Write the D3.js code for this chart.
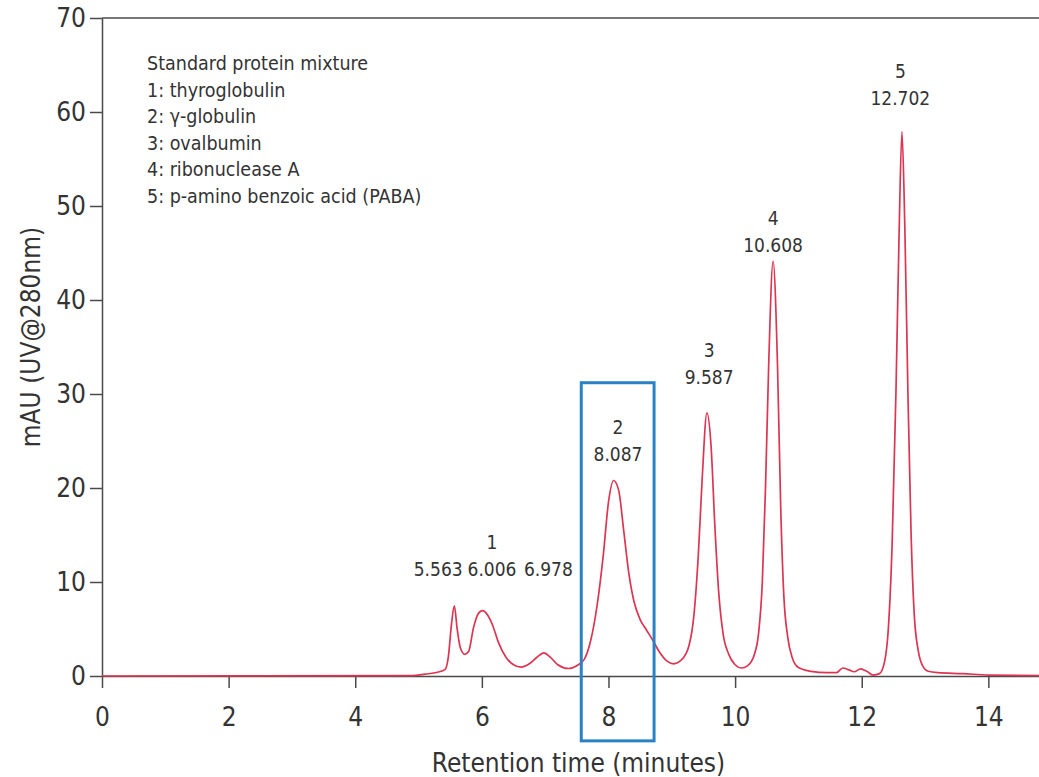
<!DOCTYPE html>
<html>
<head>
<meta charset="utf-8">
<script src="https://cdn.jsdelivr.net/npm/d3@7"></script>
<style>
  html, body { margin: 0; padding: 0; background: #fff; }
  svg { display: block; }
  text { font-family: "Liberation Sans Narrow", "DejaVu Sans Condensed", "Roboto Condensed", sans-serif; fill: #333; }
</style>
</head>
<body>
<svg id="chart" width="1039" height="777"></svg>
<script>
// ---- data ----
const times = [0, 4.9, 5.1, 5.3, 5.42, 5.47, 5.52, 5.565, 5.61, 5.66, 5.73, 5.79, 5.87, 5.94, 6.01, 6.09, 6.17, 6.26, 6.38, 6.5, 6.62, 6.75, 6.87, 6.98, 7.08, 7.2, 7.37, 7.5, 7.62, 7.72, 7.82, 7.92, 8.0, 8.08, 8.16, 8.24, 8.32, 8.4, 8.5, 8.6, 8.7, 8.8, 8.92, 9.03, 9.15, 9.27, 9.35, 9.42, 9.48, 9.555, 9.62, 9.68, 9.74, 9.81, 9.9, 10.0, 10.1, 10.2, 10.3, 10.37, 10.43, 10.48, 10.53, 10.6, 10.67, 10.72, 10.77, 10.83, 10.9, 11.0, 11.2, 11.45, 11.6, 11.7, 11.8, 11.88, 11.98, 12.08, 12.18, 12.28, 12.36, 12.42, 12.48, 12.54, 12.59, 12.635, 12.68, 12.73, 12.78, 12.83, 12.89, 12.96, 13.05, 13.2, 13.6, 14.0, 14.8];
const mau = [0, 0.05, 0.2, 0.4, 0.7, 2.0, 5.5, 7.45, 5.0, 3.0, 2.3, 2.6, 5.2, 6.6, 6.95, 6.5, 5.4, 3.6, 2.0, 1.2, 0.95, 1.3, 2.0, 2.45, 2.0, 1.2, 0.8, 1.1, 1.8, 3.8, 7.5, 13.0, 18.5, 20.8, 19.8, 15.5, 11.0, 8.0, 6.0, 4.9, 3.8, 2.6, 1.6, 1.3, 1.7, 3.2, 6.5, 13, 21, 28.0, 24.5, 16, 9, 4.5, 2.3, 1.2, 0.85, 1.1, 2.2, 4.5, 10, 20, 33, 44.1, 33, 18, 8.5, 4.2, 2.0, 0.9, 0.5, 0.35, 0.35, 0.85, 0.65, 0.45, 0.75, 0.5, 0.1, 0.25, 1.5, 5, 14, 30, 47, 57.9, 48, 30, 15, 6.5, 2.8, 1.1, 0.5, 0.35, 0.25, 0.1, 0.05];

const xTicks = [0, 2, 4, 6, 8, 10, 12, 14];
const yTicks = [0, 10, 20, 30, 40, 50, 60, 70];

const legendLines = [
  "Standard protein mixture",
  "1: thyroglobulin",
  "2: \u03b3-globulin",
  "3: ovalbumin",
  "4: ribonuclease A",
  "5: p-amino benzoic acid (PABA)"
];

// peak annotations: lines of text, anchor time and mAU of the last line's baseline
const peakLabelLines = [["5.563"], ["1", "6.006"], ["6.978"], ["2", "8.087"], ["3", "9.587"], ["4", "10.608"], ["5", "12.702"]];
const peakLabelT = [5.31, 6.16, 7.05, 8.15, 9.59, 10.6, 12.61];
const peakLabelV = [10.6, 10.6, 10.6, 22.9, 31.1, 45.1, 60.7];

// highlight box around peak 2 (data units)
const boxT = [7.57, 8.72];
const boxV = [-6.9, 31.2];

// ---- layout ----
const W = 1039, H = 777;
const margin = { left: 102, top: 18, right: 0, bottom: 101 };
const svg = d3.select("#chart");
const x = d3.scaleLinear().domain([0, 14.8]).range([margin.left, W - margin.right]);
const y = d3.scaleLinear().domain([0, 70]).range([H - margin.bottom, margin.top]);

const axisColor = "#4a4a4a";

// top frame line
svg.append("line")
  .attr("x1", x(0)).attr("x2", x(14.8))
  .attr("y1", y(70)).attr("y2", y(70))
  .attr("stroke", axisColor).attr("stroke-width", 1.5);

// y axis
const gy = svg.append("g")
  .attr("transform", `translate(${x(0)},0)`)
  .call(d3.axisLeft(y).tickValues(yTicks).tickSize(12).tickSizeOuter(0).tickPadding(4));
// x axis
const gx = svg.append("g")
  .attr("transform", `translate(0,${y(0)})`)
  .call(d3.axisBottom(x).tickValues(xTicks).tickSize(12).tickSizeOuter(0).tickPadding(20));

[gx, gy].forEach(g => {
  g.select(".domain").attr("stroke", axisColor).attr("stroke-width", 1.5);
  g.selectAll(".tick line").attr("stroke", axisColor).attr("stroke-width", 1.5);
  g.selectAll(".tick text").attr("font-size", 26).attr("fill", "#333")
    .style("font-family", '"Liberation Sans Narrow", "DejaVu Sans Condensed", sans-serif');
});

// axis titles
svg.append("text")
  .attr("x", (x(0) + x(14.8)) / 2 + 8).attr("y", 772)
  .attr("text-anchor", "middle").attr("font-size", 26)
  .text("Retention time (minutes)");
svg.append("text")
  .attr("transform", `translate(40,337) rotate(-90)`)
  .attr("text-anchor", "middle").attr("font-size", 26)
  .text("mAU (UV@280nm)");

// legend text
svg.append("g").selectAll("text").data(legendLines).join("text")
  .attr("x", 147).attr("y", (d, i) => 70 + i * 26.6)
  .attr("font-size", 19.5)
  .text(d => d);

// chromatogram line
const pts = times.map((t, i) => [t, mau[i]]);
const line = d3.line().x(d => x(d[0])).y(d => y(d[1])).curve(d3.curveMonotoneX);
svg.append("path").datum(pts)
  .attr("d", line)
  .attr("fill", "none")
  .attr("stroke", "#dc3552")
  .attr("stroke-width", 1.7)
  .attr("stroke-linejoin", "round");

// peak labels
peakLabelLines.forEach((lines, i) => {
  const g = svg.append("text")
    .attr("text-anchor", "middle")
    .attr("font-size", 19);
  lines.forEach((s, j) => {
    g.append("tspan")
      .attr("x", x(peakLabelT[i]))
      .attr("y", y(peakLabelV[i]) - (lines.length - 1 - j) * 27)
      .text(s);
  });
});

// highlight box
svg.append("rect")
  .attr("x", x(boxT[0])).attr("y", y(boxV[1]))
  .attr("width", x(boxT[1]) - x(boxT[0]))
  .attr("height", y(boxV[0]) - y(boxV[1]))
  .attr("fill", "none")
  .attr("stroke", "#2a82c4")
  .attr("stroke-width", 3);
</script>
</body>
</html>
